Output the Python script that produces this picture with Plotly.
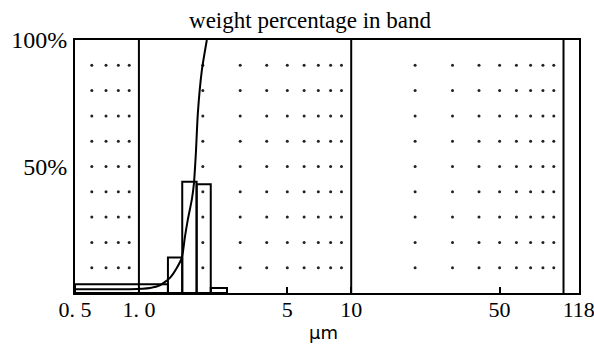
import numpy as np
import plotly.graph_objects as go

# --- data ---
band_edges = [0.5, 1.37, 1.6, 1.87, 2.18, 2.6]      # µm
band_weight = [3.5, 14, 44, 43, 2]                    # weight % in band

curve_um = [0.5, 0.91, 1.13, 1.255, 1.4, 1.51, 1.594, 1.646, 1.70, 1.776, 1.815, 1.854, 1.895, 1.979, 2.089]
curve_pct = [1.5, 1.5, 2, 3, 6, 10, 14, 22, 29, 37, 43, 55, 71, 88, 100]

minor_x = [0.6, 0.7, 0.8, 0.9, 2, 3, 4, 5, 6, 7, 8, 9, 20, 30, 40, 50, 60, 70, 80, 90]
dot_rows = [10, 20, 30, 40, 50, 60, 70, 80, 90]
major_lines = [1, 10, 100]

x_tickvals = [0.5, 1, 5, 10, 50, 118]
x_ticktext = ["0. 5", "1. 0", "5", "10", "50", "118"]
y_tickvals = [50, 100]
y_ticktext = ["50%", "100%"]

SERIF = "Liberation Serif, Times New Roman, serif"

fig = go.Figure()

# dot grid
gx, gy = np.meshgrid(minor_x, dot_rows)
fig.add_trace(go.Scatter(x=gx.ravel(), y=gy.ravel(), mode="markers",
                         marker=dict(size=3, color="#222"), hoverinfo="skip"))

# band bars as outlined rectangles
for i, h in enumerate(band_weight):
    x0, x1 = band_edges[i], band_edges[i + 1]
    fig.add_trace(go.Scatter(x=[x0, x0, x1, x1, x0], y=[0, h, h, 0, 0], mode="lines",
                             line=dict(color="black", width=2), hoverinfo="skip"))

# cumulative curve
fig.add_trace(go.Scatter(x=curve_um, y=curve_pct, mode="lines",
                         line=dict(color="black", width=2, shape="spline", smoothing=0.6),
                         hoverinfo="skip"))

for v in major_lines:
    fig.add_shape(type="line", xref="x", yref="paper", x0=v, x1=v, y0=0, y1=1,
                  line=dict(color="black", width=2))

fig.update_layout(
    width=594, height=344,
    margin=dict(l=75, r=15, t=40, b=51),
    paper_bgcolor="white", plot_bgcolor="white",
    showlegend=False,
    font=dict(family=SERIF, color="black"),
    title=dict(text="weight percentage in band", x=0.522, xanchor="center",
               y=1 - 20 / 344, yanchor="middle", yref="container",
               font=dict(size=23, family=SERIF)),
)
fig.update_xaxes(type="log", range=[np.log10(0.5), np.log10(118.3)],
                 tickvals=x_tickvals, ticktext=x_ticktext,
                 showgrid=False, zeroline=False, automargin=False,
                 showline=True, mirror=True, linecolor="black", linewidth=2,
                 ticks="inside", ticklen=6, tickwidth=1.5, tickcolor="black",
                 ticklabelstandoff=-4, ticklabeloverflow="allow",
                 tickfont=dict(size=22, family=SERIF))
fig.update_yaxes(range=[0, 100], tickvals=y_tickvals, ticktext=y_ticktext,
                 showgrid=False, zeroline=False, automargin=False,
                 showline=True, mirror=True, linecolor="black", linewidth=2,
                 ticks="", ticklabelstandoff=1,
                 tickfont=dict(size=24, family=SERIF))

fig.add_annotation(text="μm", xref="paper", yref="paper", x=0.494, y=-0.158,
                   yanchor="middle", showarrow=False,
                   font=dict(size=18, family="DejaVu Sans, sans-serif"))

fig.write_html("out.html")
